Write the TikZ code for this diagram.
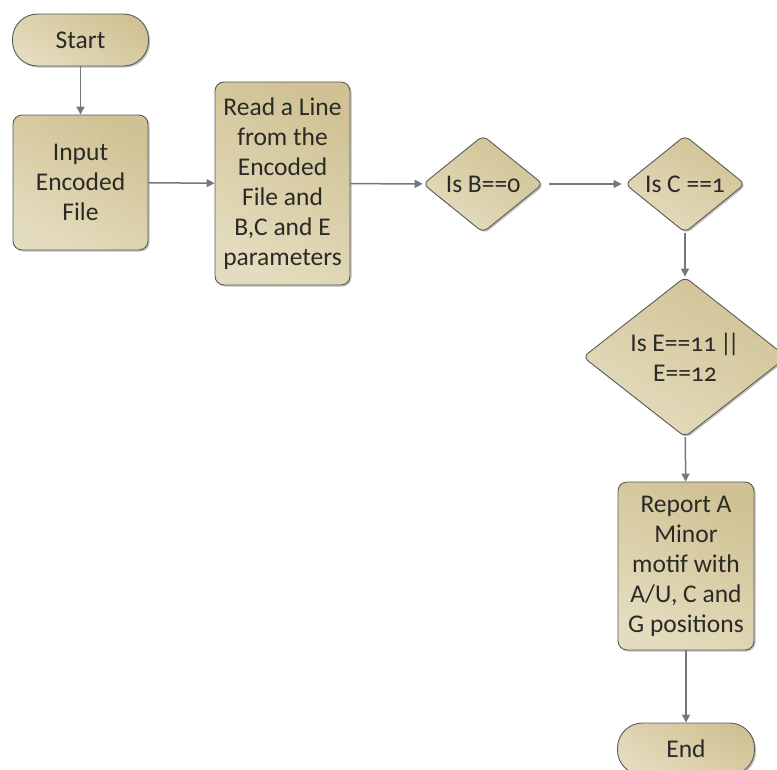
\documentclass[tikz,border=0pt]{standalone}
\usepackage{fontspec}
\setmainfont[Numbers=OldStyle]{Carlito}
\usetikzlibrary{shapes.geometric,arrows.meta,shadows}

\definecolor{boxline}{HTML}{5A5A5A}
\definecolor{fillA}{HTML}{D0C294}
\definecolor{fillB}{HTML}{E4DCBE}
\definecolor{arrowgray}{HTML}{76767E}
\definecolor{txt}{HTML}{2A2A26}

\tikzset{
  flowbase/.style={draw=boxline, line width=0.9pt, left color=fillA, right color=fillB,
    shading angle=-30, text=txt, align=center, inner sep=0pt,
    font=\fontsize{25.5}{30}\selectfont,
    drop shadow={shadow xshift=1.5pt, shadow yshift=-1.5pt, fill=black, opacity=0.25}},
  procbox/.style={flowbase, rounded corners=9pt, minimum width=135pt},
  terminal/.style={flowbase, rounded corners=25pt, minimum width=136pt, minimum height=52pt},
  decision/.style={flowbase, diamond, rounded corners=6pt},
  flowarrow/.style={draw=arrowgray, line width=1.5pt,
    -{Triangle[length=8pt,width=8pt]}}
}

\begin{document}
\begin{tikzpicture}[x=1pt,y=-1pt]
\useasboundingbox (0,0) rectangle (777,769);

\node[terminal] (start) at (80.5,40) {Start};
\node[procbox, minimum height=135pt] (input) at (80.5,182.5) {Input\\Encoded\\File};
\node[procbox, minimum height=203pt] (read) at (282.5,183.5)
  {Read a Line\\from the\\Encoded\\File and\\B,C and E\\parameters};
\node[decision, minimum width=120pt, minimum height=97pt, aspect=1.24] (isb) at (483,184) {Is B==0};
\node[decision, minimum width=120pt, minimum height=97pt, aspect=1.24] (isc) at (685,184) {Is C ==1};
\node[decision, minimum width=204pt, minimum height=160pt, aspect=1.275] (ise) at (685,357)
  {Is E==11\kern4pt\textbar\kern-4pt\textbar\\E==12};
\node[procbox, minimum width=136pt, minimum height=168pt] (report) at (686,566)
  {Report A\\Minor\\motif with\\A/U, C and\\G positions};
\node[terminal, minimum width=137pt] (end) at (686,749) {End};

\draw[flowarrow] (start) -- (input);
\draw[flowarrow] (input) -- (read);
\draw[flowarrow] (read) -- (isb);
\draw[flowarrow, shorten <=6pt, shorten >=3pt] (isb) -- (isc);
\draw[flowarrow] (isc) -- (ise);
\draw[flowarrow] (ise) -- (report);
\draw[flowarrow] (report) -- (end);
\end{tikzpicture}
\end{document}
